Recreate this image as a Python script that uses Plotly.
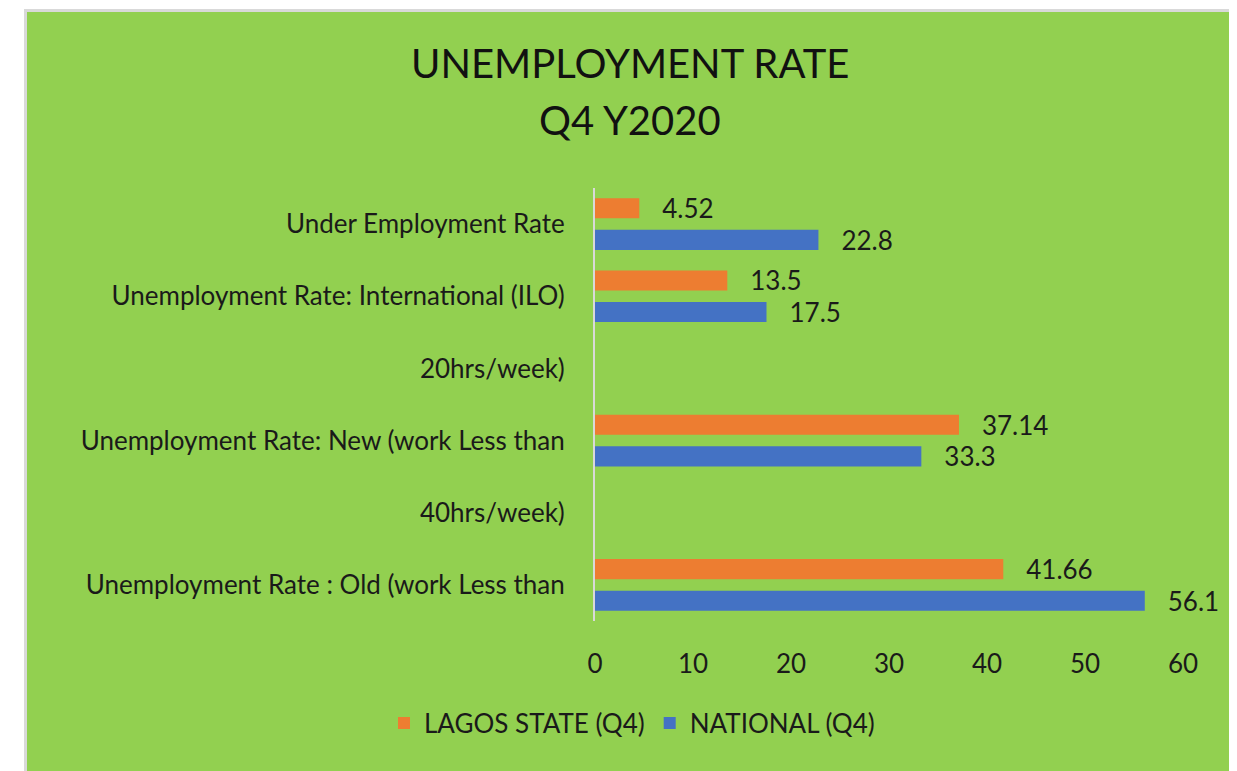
import plotly.graph_objects as go

categories = [
    "Unemployment Rate : Old (work Less than",
    "40hrs/week)",
    "Unemployment Rate: New (work Less than",
    "20hrs/week)",
    "Unemployment Rate: International (ILO)",
    "Under Employment Rate",
]
lagos = [41.66, None, 37.14, None, 13.5, 4.52]
national = [56.1, None, 33.3, None, 17.5, 22.8]
x_ticks = [0, 10, 20, 30, 40, 50, 60]
title_lines = ["UNEMPLOYMENT RATE", "Q4 Y2020"]

# page body has an 8px default margin; work in reference pixels shifted by OFF
OFF = 8
W, H = 1237 - OFF, 771 - OFF
ML, MR, MT, MB = 595 - OFF, 54, 188 - OFF, 150
PW, PH = W - ML - MR, H - MT - MB

def px2x(px):
    return (px - OFF - ML) / PW

def py2y(py):
    return (H - MB - (py - OFF)) / PH

FONT = "Lato, Calibri, Carlito, sans-serif"
GREEN = "#92D050"
ORANGE = "#ED7D31"
BLUE = "#4472C4"
TXT = "#1a1a1a"

fig = go.Figure()
fig.add_trace(go.Bar(
    y=categories, x=national, orientation="h", name="NATIONAL (Q4)",
    marker=dict(color=BLUE, line=dict(width=0)),
    texttemplate="\u00a0\u00a0\u00a0%{x}", textposition="outside",
    constraintext="none", cliponaxis=False,
    textfont=dict(family=FONT, size=26, color=TXT),
    legendrank=2, hoverinfo="x+name",
))
fig.add_trace(go.Bar(
    y=categories, x=lagos, orientation="h", name="LAGOS STATE (Q4)",
    marker=dict(color=ORANGE, line=dict(width=0)),
    texttemplate="\u00a0\u00a0\u00a0%{x}", textposition="outside",
    constraintext="none", cliponaxis=False,
    textfont=dict(family=FONT, size=26, color=TXT),
    legendrank=1, hoverinfo="x+name",
))

annotations = []
for i, (line, yc) in enumerate(zip(title_lines, [63, 120])):
    annotations.append(dict(
        text=line, showarrow=False, xref="paper", yref="paper",
        x=px2x(630), y=py2y(yc), xanchor="center", yanchor="middle",
        font=dict(family=FONT, size=40, color="#111111"),
    ))

fig.update_layout(
    width=W, height=H,
    margin=dict(l=ML, r=MR, t=MT, b=MB, pad=0),
    paper_bgcolor="white", plot_bgcolor="rgba(0,0,0,0)",
    barmode="group", bargap=0.123, bargroupgap=0.365,
    font=dict(family=FONT, size=26, color=TXT),
    annotations=annotations,
    xaxis=dict(
        range=[0, 60], tickvals=x_ticks, showgrid=False, zeroline=False,
        showline=False, ticks="", ticklabelstandoff=25,
        tickfont=dict(family=FONT, size=26, color=TXT),
    ),
    yaxis=dict(
        categoryorder="array", categoryarray=categories,
        range=[-0.5, 5.5], showgrid=False, zeroline=False,
        showline=True, linecolor="#D9D9D9", linewidth=2, ticks="",
        ticklabelstandoff=23,
        tickfont=dict(family=FONT, size=26, color=TXT),
    ),
    legend=dict(
        orientation="h", xref="container", yref="container",
        x=(632 - OFF) / W, xanchor="center", y=1 - (723 - OFF) / H, yanchor="middle",
        font=dict(family=FONT, size=26, color=TXT),
        bgcolor="rgba(0,0,0,0)", itemwidth=30,
    ),
    shapes=[dict(
        type="rect", xref="paper", yref="paper", layer="below",
        x0=px2x(25.5), x1=px2x(1237 + 20), y0=py2y(771 + 20), y1=py2y(10.5),
        fillcolor=GREEN, line=dict(color="#D9D9D9", width=3),
    )],
)

fig.write_html("out.html")
